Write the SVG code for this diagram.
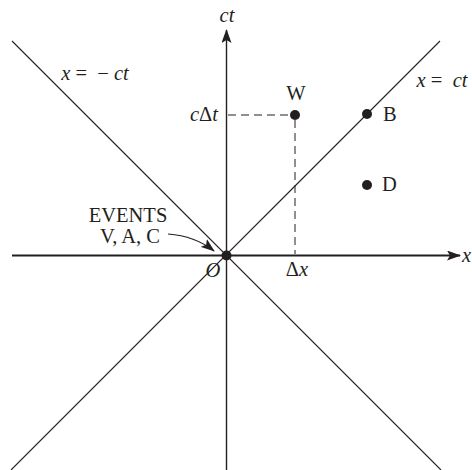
<svg xmlns="http://www.w3.org/2000/svg" width="472" height="470" viewBox="0 0 472 470">
<style>
text{font-family:"Liberation Serif","Times New Roman",serif;font-size:20.5px;fill:#231f20}
.i{font-style:italic}
.thin{stroke:#231f20;stroke-width:1.1;fill:none}
.dash{stroke:#231f20;stroke-width:1;stroke-dasharray:8,5;fill:none}
.dot{fill:#231f20}
</style>
<defs>
<marker id="ah" markerWidth="14" markerHeight="10" refX="13" refY="5" orient="auto" markerUnits="userSpaceOnUse">
<path d="M0,0 L14,5 L0,10 L3,5 Z" fill="#231f20"/>
</marker>
</defs>
<rect width="472" height="470" fill="#fff"/>
<g id="connectors">
<line class="thin" x1="12" y1="41" x2="441" y2="470"/>
<line class="thin" x1="11" y1="470" x2="440" y2="41"/>
<line x1="226.5" y1="470" x2="226.5" y2="30" stroke="#231f20" stroke-width="1.4" marker-end="url(#ah)"/>
<line x1="12" y1="255.5" x2="460" y2="255.5" stroke="#231f20" stroke-width="2.2" marker-end="url(#ah)"/>
<line class="dash" x1="228" y1="115" x2="290" y2="115"/>
<line class="dash" x1="295" y1="120" x2="295" y2="254"/>
<path d="M168,234 Q195,236 214,251" stroke="#231f20" stroke-width="1.2" fill="none" marker-end="url(#ah)"/>
</g>
<g id="axis-labels">
<text class="i" x="227" y="22" text-anchor="middle">ct</text>
<text class="i" x="462" y="262">x</text>
<text x="218" y="121" text-anchor="end"><tspan class="i">c</tspan>Δ<tspan class="i">t</tspan></text>
<text x="297" y="276" text-anchor="middle">Δ<tspan class="i">x</tspan></text>
<text class="i" x="213" y="277" text-anchor="middle">O</text>
<text x="95" y="80" text-anchor="middle" xml:space="preserve"><tspan class="i">x</tspan> =  − <tspan class="i">ct</tspan></text>
<text x="442" y="87" text-anchor="middle" xml:space="preserve"><tspan class="i">x</tspan> =  <tspan class="i">ct</tspan></text>
</g>
<g id="node-O">
<circle class="dot" cx="226.5" cy="255.5" r="5"/>
<text x="128" y="222" text-anchor="middle">EVENTS</text>
<text x="130" y="243" text-anchor="middle">V, A, C</text>
</g>
<g id="node-W">
<circle class="dot" cx="295" cy="115" r="5"/>
<text x="296" y="100" text-anchor="middle">W</text>
</g>
<g id="node-B">
<circle class="dot" cx="367" cy="114" r="5"/>
<text x="383" y="121">B</text>
</g>
<g id="node-D">
<circle class="dot" cx="367" cy="185" r="5"/>
<text x="382" y="191">D</text>
</g>
</svg>
